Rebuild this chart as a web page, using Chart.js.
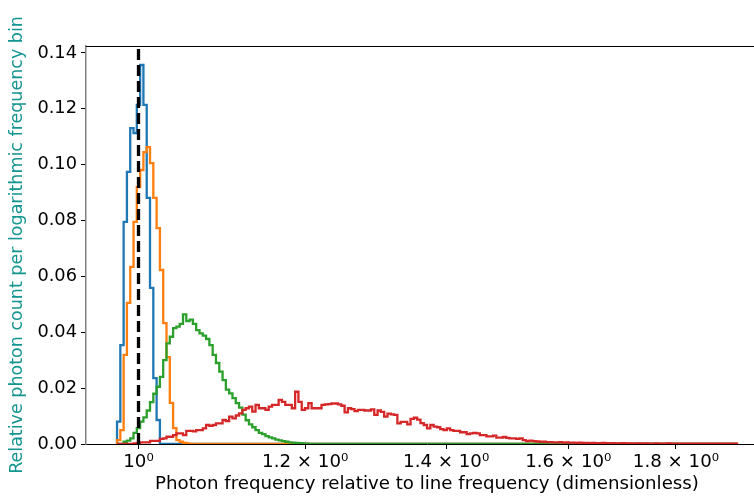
<!DOCTYPE html>
<html><head><meta charset="utf-8">
<script src="https://cdn.jsdelivr.net/npm/chart.js@4.4.0/dist/chart.umd.min.js"></script>
<style>
html,body{margin:0;padding:0;overflow:hidden;background:#fff;width:754px;height:498px}
#wrap{width:800px;height:498px;}
</style></head>
<body><div id="wrap"><canvas id="c" width="800" height="498"></canvas></div>
<script>
// ---- histogram binning (shared log-spaced bins) ----
const binLo = 0.9768, binHi = 1.9245, nBins = 188;

// ---- series values (relative photon count per bin) ----
const blueStart = 0;
const blueValues = [0.0080, 0.0354, 0.0795, 0.0974, 0.1131, 0.1113, 0.1214, 0.1357, 0.1214, 0.0881, 0.0559, 0.0236, 0.0086];

const orangeStart = 0;
const orangeValues = [0.0014, 0.0050, 0.0319, 0.0505, 0.0634, 0.0795, 0.0920, 0.0981, 0.1045, 0.1063,
  0.1006, 0.0881, 0.0773, 0.0623, 0.0433, 0.0311, 0.0147, 0.0057, 0.0014, 0.0008, 0.0004, 0.0002];

const greenStart = 2;
const greenValues = [0.0008, 0.0012, 0.0020, 0.0040, 0.0057, 0.0080, 0.0095, 0.0120, 0.0150, 0.0180,
  0.0205, 0.0240, 0.0300, 0.0360, 0.0384, 0.0415, 0.0420, 0.0430, 0.0464, 0.0440,
  0.0445, 0.0430, 0.0408, 0.0396, 0.0388, 0.0376, 0.0354, 0.0319, 0.0290, 0.0259,
  0.0229, 0.0195, 0.0181, 0.0164, 0.0146, 0.0130, 0.0105, 0.0085, 0.0070, 0.0060,
  0.0050, 0.0040, 0.0035, 0.0028, 0.0024, 0.0020, 0.0016, 0.0013, 0.0010, 0.0008,
  0.0006, 0.0005, 0.0004, 0.0003, 0.0002, 0.0001];

const redStart = 5;
const redValues = [0.0002, 0.0004, 0.0006, 0.0006, 0.0006, 0.0011, 0.0011, 0.0011, 0.0018, 0.0020,
  0.0026, 0.0026, 0.0032, 0.0038, 0.0038, 0.0032, 0.0047, 0.0047, 0.0045, 0.0050,
  0.0050, 0.0056, 0.0068, 0.0065, 0.0068, 0.0074, 0.0074, 0.0086, 0.0082, 0.0098,
  0.0092, 0.0102, 0.0110, 0.0122, 0.0128, 0.0134, 0.0116, 0.0140, 0.0128, 0.0128,
  0.0122, 0.0134, 0.0140, 0.0140, 0.0158, 0.0151, 0.0140, 0.0140, 0.0128, 0.0187,
  0.0151, 0.0122, 0.0128, 0.0146, 0.0128, 0.0128, 0.0128, 0.0140, 0.0142, 0.0143,
  0.0145, 0.0145, 0.0142, 0.0137, 0.0113, 0.0128, 0.0125, 0.0118, 0.0122, 0.0122,
  0.0120, 0.0120, 0.0124, 0.0104, 0.0120, 0.0115, 0.0098, 0.0109, 0.0106, 0.0104,
  0.0074, 0.0079, 0.0079, 0.0070, 0.0090, 0.0094, 0.0087, 0.0075, 0.0068, 0.0056,
  0.0068, 0.0062, 0.0060, 0.0053, 0.0050, 0.0056, 0.0050, 0.0047, 0.0047, 0.0042,
  0.0042, 0.0035, 0.0038, 0.0040, 0.0038, 0.0032, 0.0032, 0.0027, 0.0027, 0.0030,
  0.0023, 0.0023, 0.0025, 0.0022, 0.0020, 0.0020, 0.0018, 0.0020, 0.0014, 0.0010,
  0.0012, 0.0010, 0.0009, 0.0008, 0.0008, 0.0007, 0.0007, 0.0006, 0.0006, 0.0007,
  0.0005, 0.0006, 0.0005, 0.0005, 0.0004, 0.0005, 0.0004, 0.0004, 0.0003, 0.0004,
  0.0003, 0.0003, 0.0004, 0.0003, 0.0002, 0.0003, 0.0002, 0.0002, 0.0003, 0.0002,
  0.0002, 0.0001, 0.0002, 0.0002, 0.0001, 0.0002, 0.0001, 0.0001, 0.0002, 0.0001,
  0.0001, 0.0001, 0.0002, 0.0001, 0.0001, 0.0001, 0.0001, 0.0001, 0.0001, 0.0001,
  0.0001, 0.0001, 0.0001, 0.0001, 0.0001, 0.0001, 0.0001, 0.0001, 0.0001, 0.0001,
  0.0001, 0.0001, 0.0001];

// ---- reference line and axes ----
const lineFrequency = 1.0;
const xTickValues = [1.0, 1.2, 1.4, 1.6, 1.8];
const xTickLabels = ['10\u2070', '1.2 \u00d7 10\u2070', '1.4 \u00d7 10\u2070', '1.6 \u00d7 10\u2070', '1.8 \u00d7 10\u2070'];
const yTickValues = [0, 0.02, 0.04, 0.06, 0.08, 0.10, 0.12, 0.14];
const xMin = 0.9442, xMax = 1.9907, yMin = 0, yMax = 0.1425;

const xTitle = 'Photon frequency relative to line frequency (dimensionless)';
const yTitle = 'Relative photon count per logarithmic frequency bin';

// ---- build step outlines ----
const la = Math.log10(binLo), lb = Math.log10(binHi);
const edges = [];
for (let i = 0; i <= nBins; i++) edges.push(Math.pow(10, la + (lb - la) * i / nBins));

function stepData(start, vals) {
  const full = new Array(nBins).fill(0);
  vals.forEach((v, i) => { if (start + i < nBins) full[start + i] = v; });
  const pts = [{x: edges[0], y: 0}];
  for (let i = 0; i < nBins; i++) pts.push({x: edges[i], y: full[i]});
  pts.push({x: edges[nBins], y: full[nBins - 1]});
  pts.push({x: edges[nBins], y: 0});
  return pts;
}

const FONT = 'DejaVu Sans';

function histDs(data, color, order) {
  return {data, borderColor: color, borderWidth: 2.3, pointRadius: 0, stepped: 'before',
          fill: false, tension: 0, order};
}

const topSpine = {
  id: 'topSpine',
  afterDraw(chart) {
    const a = chart.chartArea, ctx = chart.ctx;
    ctx.save();
    ctx.strokeStyle = '#000'; ctx.lineWidth = 1;
    ctx.beginPath(); ctx.moveTo(a.left, Math.round(a.top) + 0.5); ctx.lineTo(a.right, Math.round(a.top) + 0.5); ctx.stroke();
    ctx.restore();
  }
};

new Chart(document.getElementById('c'), {
  type: 'line',
  data: {
    datasets: [
      histDs(stepData(blueStart, blueValues), '#1f77b4', 5),
      histDs(stepData(orangeStart, orangeValues), '#ff7f0e', 4),
      histDs(stepData(greenStart, greenValues), '#2ca02c', 3),
      histDs(stepData(redStart, redValues), '#d62728', 2),
      {data: [{x: lineFrequency, y: yMin}, {x: lineFrequency, y: yMax}], borderColor: '#000',
       borderWidth: 3.3, borderDash: [11, 5], pointRadius: 0, fill: false, order: 1}
    ]
  },
  options: {
    responsive: false, animation: false, events: [],
    layout: {padding: {left: 0, right: 32, top: 46, bottom: 0}},
    plugins: {legend: {display: false}, tooltip: {enabled: false}},
    scales: {
      x: {
        type: 'logarithmic', min: xMin, max: xMax,
        afterBuildTicks: (s) => { s.ticks = xTickValues.map(v => ({value: v})); },
        afterFit: (s) => { s.height = 54; },
        grid: {display: true, drawOnChartArea: false, drawTicks: true, tickLength: 5, color: '#000'},
        border: {display: true, color: '#000', width: 1, z: 1},
        ticks: {autoSkip: false, maxRotation: 0, padding: 2, color: '#000',
                font: {family: FONT, size: 18.2},
                callback: (v) => { const i = xTickValues.findIndex(t => Math.abs(t - v) < 1e-9); return i >= 0 ? xTickLabels[i] : ''; }},
        title: {display: true, text: xTitle, color: '#000', font: {family: FONT, size: 18.2},
                padding: {top: 0, bottom: 3}}
      },
      y: {
        type: 'linear', min: yMin, max: yMax,
        afterBuildTicks: (s) => { s.ticks = yTickValues.map(v => ({value: v})); },
        afterFit: (s) => { s.width = 86; },
        grid: {display: true, drawOnChartArea: false, drawTicks: true, tickLength: 5, color: '#000'},
        border: {display: true, color: '#808080', width: 1.5, z: 1},
        ticks: {padding: 4, color: '#000', font: {family: FONT, size: 17.8},
                callback: (v) => v.toFixed(2)},
        title: {display: true, text: yTitle, color: '#15958f', font: {family: FONT, size: 17.5},
                padding: {top: 7, bottom: 0}}
      }
    }
  },
  plugins: [topSpine]
});
</script>
</body></html>
